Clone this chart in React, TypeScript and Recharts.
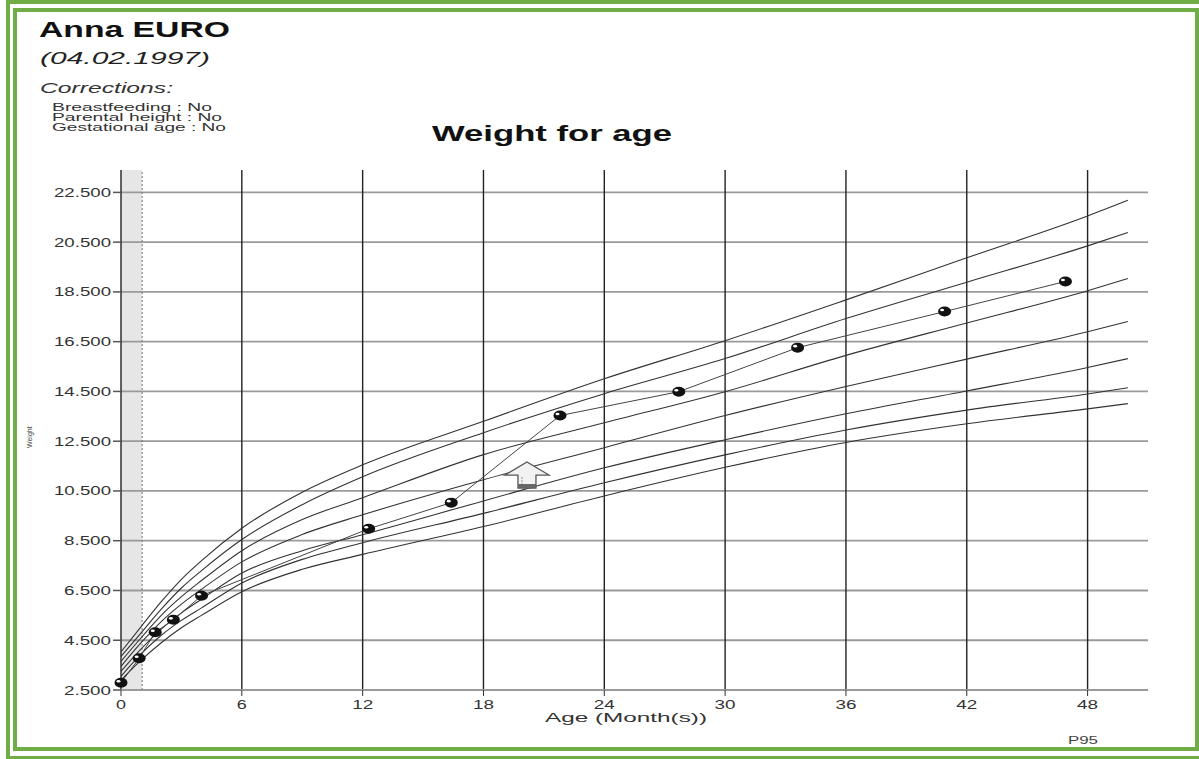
import { LineChart, Line, XAxis, YAxis, ReferenceArea, ReferenceLine, ReferenceDot } from "recharts";

// reference curves, age in months -> weight in grams
const ages = [0, 1, 2, 3, 4, 6, 9, 12, 18, 24, 30, 36, 42, 48, 50];
const curve1 = [4030, 5050, 6050, 6950, 7700, 9000, 10450, 11550, 13300, 15010, 16540, 18180, 19870, 21550, 22180];
const curve2 = [3850, 4800, 5750, 6600, 7300, 8550, 9950, 11070, 12840, 14410, 15820, 17430, 18890, 20350, 20890];
const curve3 = [3650, 4600, 5500, 6250, 6900, 8100, 9350, 10230, 11960, 13240, 14490, 15950, 17250, 18550, 19040];
const curve4 = [3450, 4400, 5250, 5950, 6550, 7650, 8750, 9540, 10950, 12240, 13530, 14700, 15800, 16900, 17310];
const curve5 = [3250, 4150, 4950, 5600, 6150, 7200, 8100, 8740, 10100, 11430, 12560, 13600, 14520, 15460, 15820];
const curve6 = [3050, 3950, 4700, 5300, 5800, 6800, 7750, 8420, 9600, 10830, 11950, 12950, 13750, 14400, 14650];
const curve7 = [2900, 3700, 4400, 5000, 5500, 6450, 7350, 7950, 9070, 10300, 11450, 12450, 13200, 13800, 14010];

// measured child
const childAges = [0, 0.9, 1.7, 2.6, 4.0, 12.3, 16.4, 21.8, 27.7, 33.6, 40.9, 46.9];
const childWeights = [2790, 3775, 4820, 5320, 6290, 8980, 10030, 13530, 14490, 16260, 17710, 18920];

const xTicks = [0, 6, 12, 18, 24, 30, 36, 42, 48];
const yTicks = [2500, 4500, 6500, 8500, 10500, 12500, 14500, 16500, 18500, 20500, 22500];

const curves = [curve1, curve2, curve3, curve4, curve5, curve6, curve7];
const curveData = curves.map((c) => ages.map((a, i) => ({ age: a, w: c[i] })));
const childData = childAges.map((a, i) => ({ age: a, w: childWeights[i] }));

const FONT = "'Liberation Sans', Arial, sans-serif";
const GREEN = "#70AD47";

const fmt = (v: number) => `${Math.floor(v / 1000)}.${String(v % 1000).padStart(3, "0")}`;

const YTick = (props: any) => {
  const s = fmt(props.payload.value);
  return (
    <text x={props.x} y={props.y + 4.5} textAnchor="end" fontSize={13} fontFamily={FONT} fill="#333"
      textLength={s.length === 6 ? 57 : 47} lengthAdjust="spacingAndGlyphs">
      {s}
    </text>
  );
};

const XTick = (props: any) => {
  const s = String(props.payload.value);
  return (
    <text x={props.x} y={709} textAnchor="middle" fontSize={13} fontFamily={FONT} fill="#333"
      textLength={s.length === 2 ? 21 : 10} lengthAdjust="spacingAndGlyphs">
      {s}
    </text>
  );
};

const ChildDot = (props: any) => {
  const { cx, cy } = props;
  if (cx == null || cy == null) return null;
  return (
    <g>
      <ellipse cx={cx} cy={cy} rx={6.5} ry={5} fill="#111" />
      <ellipse cx={cx - 2.5} cy={cy - 1.5} rx={2} ry={1.3} fill="#fff" />
    </g>
  );
};

const Arrow = (props: any) => {
  const { cx, cy } = props;
  if (cx == null || cy == null) return null;
  const pts = [
    [cx - 22, cy], [cx, cy - 13], [cx + 22, cy], [cx + 9, cy], [cx + 9, cy + 13], [cx - 9, cy + 13], [cx - 9, cy],
  ].map((p) => p.join(",")).join(" ");
  return (
    <g>
      <polygon points={pts} fill="#f2f2f2" stroke="#555" strokeWidth={1.3} />
      {[2, 5, 8].map((d) => (
        <line key={d} x1={cx - 5} x2={cx - 5} y1={cy + d} y2={cy + d + 2} stroke="#999" strokeWidth={1} />
      ))}
      <rect x={cx - 9} y={cy + 9} width={18} height={4} fill="#666" />
    </g>
  );
};

export default function App() {
  return (
    <div style={{ position: "absolute", left: 0, top: 0, width: 1199, height: 759, overflow: "hidden", background: "#fff" }}>
      <div style={{ position: "absolute", left: 6, top: 0, width: 1197, height: 760, border: `4px solid ${GREEN}`, boxSizing: "border-box" }} />
      <div style={{ position: "absolute", left: 13, top: 8, width: 1186, height: 743, border: `4px solid ${GREEN}`, boxSizing: "border-box" }} />
      <div style={{ position: "absolute", left: 0, top: 0 }}>
        <LineChart width={1199} height={759} margin={{ top: 170, right: 51, bottom: 39, left: 61 }}>
          <XAxis type="number" dataKey="age" domain={[0, 51]} ticks={xTicks} allowDuplicatedCategory={false}
            height={30} tickSize={6} axisLine={{ stroke: "#9a9a9a", strokeWidth: 1.8 }} tickLine={{ stroke: "#333" }} tick={<XTick />} />
          <YAxis type="number" domain={[2500, 23400]} ticks={yTicks} width={60} tickSize={8}
            axisLine={false} tickLine={{ stroke: "#555", strokeWidth: 1.5 }} tick={<YTick />} />
          <ReferenceArea x1={0} x2={1.05} y1={2500} y2={23400} fill="#d6d6d6" fillOpacity={0.6} stroke="none" />
          {yTicks.map((t) => (
            <ReferenceLine key={`h${t}`} y={t} stroke="#9a9a9a" strokeWidth={1.8} />
          ))}
          {xTicks.map((t) => (
            <ReferenceLine key={`v${t}`} x={t} stroke="#222" strokeWidth={1.4} />
          ))}
          <ReferenceLine x={1.05} stroke="#777" strokeDasharray="2 2" />
          {curveData.map((d, i) => (
            <Line key={i} data={d} dataKey="w" type="monotone" stroke="#333" strokeWidth={1.1} dot={false} isAnimationActive={false} />
          ))}
          <Line data={childData} dataKey="w" type="linear" stroke="#444" strokeWidth={1} dot={<ChildDot />} isAnimationActive={false} />
          <ReferenceDot x={20.16} y={11140} shape={<Arrow />} />
        </LineChart>
      </div>
      <svg width={1199} height={759} style={{ position: "absolute", left: 0, top: 0, pointerEvents: "none" }} fontFamily={FONT}>
        <text x={39} y={37} fontSize={22} fontWeight="bold" fill="#111" textLength={191} lengthAdjust="spacingAndGlyphs">Anna EURO</text>
        <text x={40} y={64} fontSize={17} fontStyle="italic" fill="#222" textLength={170} lengthAdjust="spacingAndGlyphs">(04.02.1997)</text>
        <text x={40} y={93} fontSize={14} fontStyle="italic" fill="#333" textLength={133} lengthAdjust="spacingAndGlyphs">Corrections:</text>
        <text x={52} y={111} fontSize={11} fill="#333" textLength={160} lengthAdjust="spacingAndGlyphs">Breastfeeding : No</text>
        <text x={52} y={121} fontSize={11} fill="#333" textLength={170} lengthAdjust="spacingAndGlyphs">Parental height : No</text>
        <text x={52} y={131} fontSize={11} fill="#333" textLength={174} lengthAdjust="spacingAndGlyphs">Gestational age : No</text>
        <text x={432} y={141} fontSize={22} fontWeight="bold" fill="#111" textLength={240} lengthAdjust="spacingAndGlyphs">Weight for age</text>
        <text x={545} y={722} fontSize={13} fill="#333" textLength={162} lengthAdjust="spacingAndGlyphs">Age (Month(s))</text>
        <text x={1068} y={744} fontSize={10} fill="#444" textLength={30} lengthAdjust="spacingAndGlyphs">P95</text>
        <text x={32} y={448} fontSize={7} fill="#444" transform="rotate(-90 32 448)">Weight</text>
      </svg>
    </div>
  );
}
